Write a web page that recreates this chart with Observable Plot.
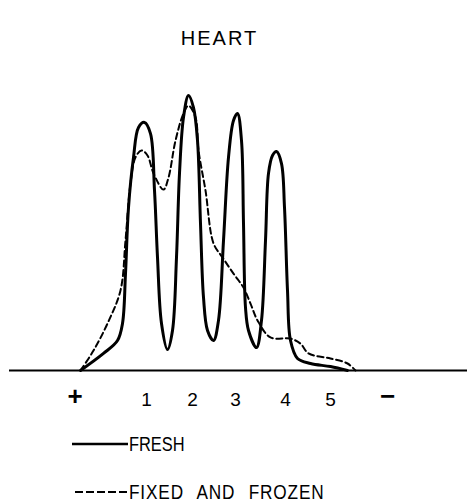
<!DOCTYPE html>
<html>
<head>
<meta charset="utf-8">
<script src="https://cdn.jsdelivr.net/npm/d3@7"></script>
<script src="https://cdn.jsdelivr.net/npm/@observablehq/plot@0.6"></script>
<style>
  html, body { margin: 0; padding: 0; background: #fff; }
  #wrap { position: relative; width: 467px; height: 504px; overflow: hidden; font-family: "Liberation Sans", Arial, sans-serif; color: #000; }
  #title { position: absolute; left: 0; top: 28px; width: 435px; text-align: center; font-size: 20px; line-height: 20px; letter-spacing: 2px; padding-left: 2px; }
  #chart { position: absolute; left: 0; top: 60px; }
  .leg { position: absolute; left: 72px; display: flex; align-items: center; font-size: 20px; line-height: 20px; white-space: nowrap; }
  .leg svg { display: block; flex: none; }
  .leg span { display: inline-block; transform-origin: left center; }
</style>
</head>
<body>
<div id="wrap">
  <div id="title">HEART</div>
  <div id="chart"></div>
  <div class="leg" id="leg1" style="top:434px"></div>
  <div class="leg" id="leg2" style="top:482px"></div>
</div>
<script>
// Migration distance (arbitrary units) and densitometer reading (% of scale)
const freshDistance = [71, 94, 108, 113, 116, 119, 124, 129, 135, 141, 145, 148, 152, 158, 163, 167, 170, 174, 179, 184, 188, 191, 194, 198, 204, 209, 214, 219, 224, 228, 232, 234, 236, 239, 247, 252, 256, 259, 263, 267, 272, 275, 278, 281, 288, 301, 321, 338];
const freshDensity  = [0, 6.1, 10.7, 16.8, 34.6, 58.2, 76.1, 86.8, 88.6, 84.6, 64.3, 40.4, 16.8, 7.5, 14.3, 40.4, 70.4, 90.4, 98.2, 93.9, 82.1, 52.5, 26.1, 14.3, 10.7, 17.9, 46.4, 76.1, 89.3, 91.8, 82.1, 52.5, 22.5, 14.3, 8.2, 17.9, 46.4, 70.4, 76.8, 78.2, 73.9, 58.2, 28.6, 10.7, 4.3, 2.5, 1.4, 0];

const fixedDistance = [71, 84, 98, 111, 116, 121, 126, 132, 138, 144, 154, 159, 166, 174, 179, 186, 189, 196, 204, 213, 224, 234, 241, 248, 261, 281, 291, 299, 321, 338, 346];
const fixedDensity  = [0, 7.1, 16.8, 28.6, 46.4, 66.8, 76.1, 78.6, 76.8, 70.4, 64.6, 68.9, 82.1, 91.8, 94.6, 90.4, 78.6, 64.3, 45.4, 40.4, 34.6, 29.6, 23.9, 17.9, 11.8, 11.4, 9.6, 6.1, 4.3, 2.5, 0];

// Axis labels: anode (+), bands 1-5, cathode (−)
const bandPositions = [137, 183, 226, 276, 321];
const bandLabels = ["1", "2", "3", "4", "5"];
const polePositions = [65.5, 378];
const poleLabels = ["+", "\u2212"];

const seriesNames = ["FRESH", "FIXED AND FROZEN"];

const fresh = freshDistance.map((x, i) => ({x, y: freshDensity[i]}));
const fixed = fixedDistance.map((x, i) => ({x, y: fixedDensity[i]}));

const chart = Plot.plot({
  width: 467,
  height: 360,
  marginLeft: 9,
  marginRight: 0,
  marginTop: 30,
  marginBottom: 50,
  style: {fontFamily: "'Liberation Sans', Arial, sans-serif", background: "#fff", color: "#000"},
  x: {domain: [0, 458], axis: null},
  y: {domain: [0, 100], axis: null},
  marks: [
    Plot.ruleY([0], {stroke: "#000", strokeWidth: 2}),
    Plot.line(fixed, {x: "x", y: "y", curve: "catmull-rom", stroke: "#000", strokeWidth: 2, strokeDasharray: "6,3.5"}),
    Plot.line(fresh, {x: "x", y: "y", curve: "catmull-rom", stroke: "#000", strokeWidth: 3}),
    Plot.axisX({ticks: bandPositions, tickFormat: (d) => bandLabels[bandPositions.indexOf(d)], tickSize: 0, tickPadding: 22, fontSize: 19, label: null}),
    Plot.axisX({ticks: polePositions, tickFormat: (d) => poleLabels[polePositions.indexOf(d)], tickSize: 0, tickPadding: 16, fontSize: 26, fontWeight: "bold", label: null})
  ]
});
document.getElementById("chart").appendChild(chart);

function swatch(dashed) {
  const ns = "http://www.w3.org/2000/svg";
  const s = document.createElementNS(ns, "svg");
  s.setAttribute("width", 57); s.setAttribute("height", 20);
  const l = document.createElementNS(ns, "line");
  l.setAttribute("x1", dashed ? 3 : 0); l.setAttribute("x2", 56);
  l.setAttribute("y1", 10); l.setAttribute("y2", 10);
  l.setAttribute("stroke", "#000");
  l.setAttribute("stroke-width", dashed ? 2 : 2.5);
  if (dashed) l.setAttribute("stroke-dasharray", "8,3");
  s.appendChild(l);
  return s;
}
const l1 = document.getElementById("leg1");
l1.appendChild(swatch(false));
const sp1 = Object.assign(document.createElement("span"), {textContent: seriesNames[0]});
sp1.style.transform = "scaleX(0.82)";
l1.appendChild(sp1);
const l2 = document.getElementById("leg2");
l2.appendChild(swatch(true));
const sp2 = Object.assign(document.createElement("span"), {textContent: seriesNames[1]});
sp2.style.transform = "scaleX(0.86)";
sp2.style.letterSpacing = "1px";
sp2.style.wordSpacing = "9px";
l2.appendChild(sp2);
</script>
</body>
</html>
